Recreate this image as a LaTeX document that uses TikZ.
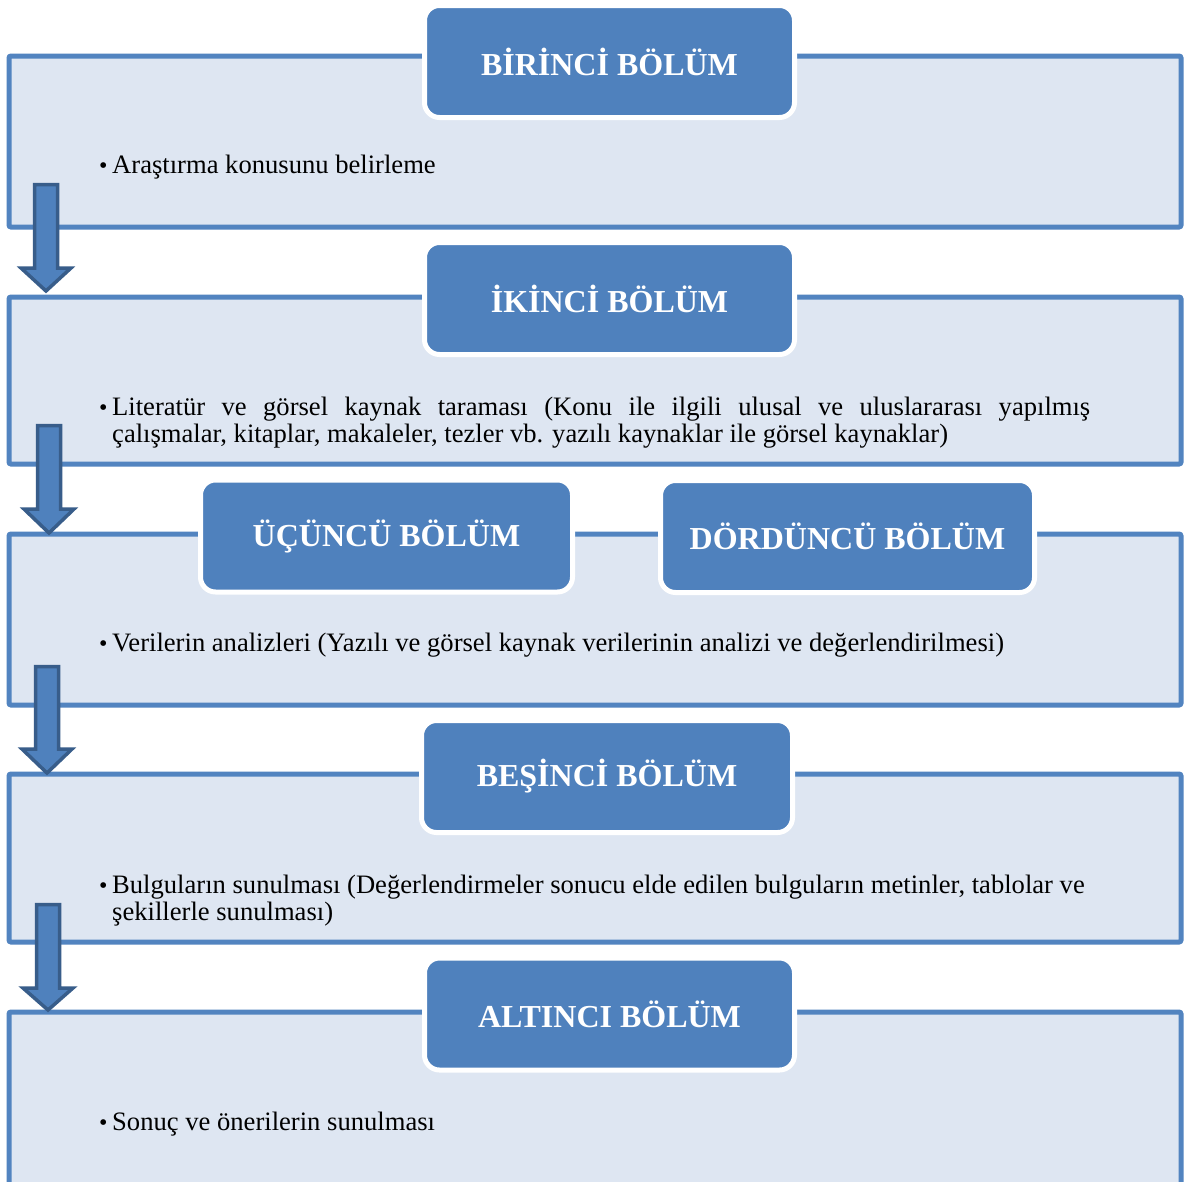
\documentclass[tikz,border=0pt]{standalone}
\usepackage{fontspec}
\setmainfont{Liberation Serif}
\definecolor{hblue}{RGB}{79,129,189}
\definecolor{pborder}{RGB}{82,132,192}
\definecolor{pfill}{RGB}{222,230,242}
\definecolor{adark}{RGB}{56,93,138}
\tikzset{
  panel/.style={draw=pborder, line width=5pt, fill=pfill, rounded corners=2pt, inner sep=0pt, minimum width=1172pt},
  header/.style={draw=white, line width=5pt, fill=hblue, rounded corners=15pt, text=white,
    font=\fontsize{32pt}{34pt}\selectfont\bfseries, inner sep=0pt, minimum height=112pt},
  bodytext/.style={font=\fontsize{26.6pt}{27pt}\selectfont, inner sep=0pt, anchor=base west},
  bulletmark/.style={font=\fontsize{24pt}{27pt}\selectfont, inner sep=0pt, anchor=base west},
  downarrow/.style={draw=adark, line width=3.5pt, fill=hblue, line join=miter},
}
\begin{document}
\begin{tikzpicture}[x=1pt,y=-1pt]
\clip (0,0) rectangle (1185,1181);
\fill[white] (0,0) rectangle (1185,1181);
% panels
\node[panel, minimum height=171pt] (p1) at (595,141.5) {};
\node[panel, minimum height=167pt] (p2) at (595,380.5) {};
\node[panel, minimum height=171pt] (p3) at (595,619.5) {};
\node[panel, minimum height=168pt] (p4) at (595,858) {};
\node[panel, minimum height=200pt] (p5) at (595,1112) {};
% headers
\node[header, minimum width=370pt] (h1) at (609.5,61.5) {BİRİNCİ BÖLÜM};
\node[header, minimum width=370pt] (h2) at (609.5,298.5) {İKİNCİ BÖLÜM};
\node[header, minimum width=372pt] (h3) at (386.5,536) {ÜÇÜNCÜ BÖLÜM};
\node[header, minimum width=374pt] (h4) at (847.5,536.5) {DÖRDÜNCÜ BÖLÜM};
\node[header, minimum width=371pt] (h5) at (607,776.5) {BEŞİNCİ BÖLÜM};
\node[header, minimum width=370pt] (h6) at (609.5,1014) {ALTINCI BÖLÜM};
% texts
\node[bulletmark] (b1) at (99,173) {•};
\node[bodytext] (t1) at (112,173) {Araştırma konusunu belirleme};
\node[bulletmark] (b2) at (99,415) {•};
\node[bodytext] (t2) at (112,415) {\parbox[t]{978pt}{\fontsize{26.6pt}{27pt}\selectfont Literatür ve görsel kaynak taraması (Konu ile ilgili ulusal ve uluslararası yapılmış\linebreak çalışmalar, kitaplar, makaleler, tezler vb. yazılı kaynaklar ile görsel kaynaklar)}};
\node[bulletmark] (b3) at (99,651) {•};
\node[bodytext] (t3) at (112,651) {Verilerin analizleri (Yazılı ve görsel kaynak verilerinin analizi ve değerlendirilmesi)};
\node[bulletmark] (b4) at (99,893) {•};
\node[bodytext] (t4) at (112,893) {\parbox[t]{1060pt}{\fontsize{26.6pt}{27pt}\selectfont Bulguların sunulması (Değerlendirmeler sonucu elde edilen bulguların metinler, tablolar ve\\ şekillerle sunulması)}};
\node[bulletmark] (b5) at (99,1130) {•};
\node[bodytext] (t5) at (112,1130) {Sonuç ve önerilerin sunulması};
% arrows
\foreach \cx/\ty/\hb/\tp in {46/184.5/268/291, 49/425.5/509/533, 47/666.5/749/773, 48/904.5/988/1010}{
  \draw[downarrow] ({\cx-11.5},\ty) -- ({\cx+11.5},\ty) -- ({\cx+11.5},\hb) -- ({\cx+25},\hb)
    -- (\cx,\tp) -- ({\cx-25},\hb) -- ({\cx-11.5},\hb) -- cycle;
}
\end{tikzpicture}
\end{document}
